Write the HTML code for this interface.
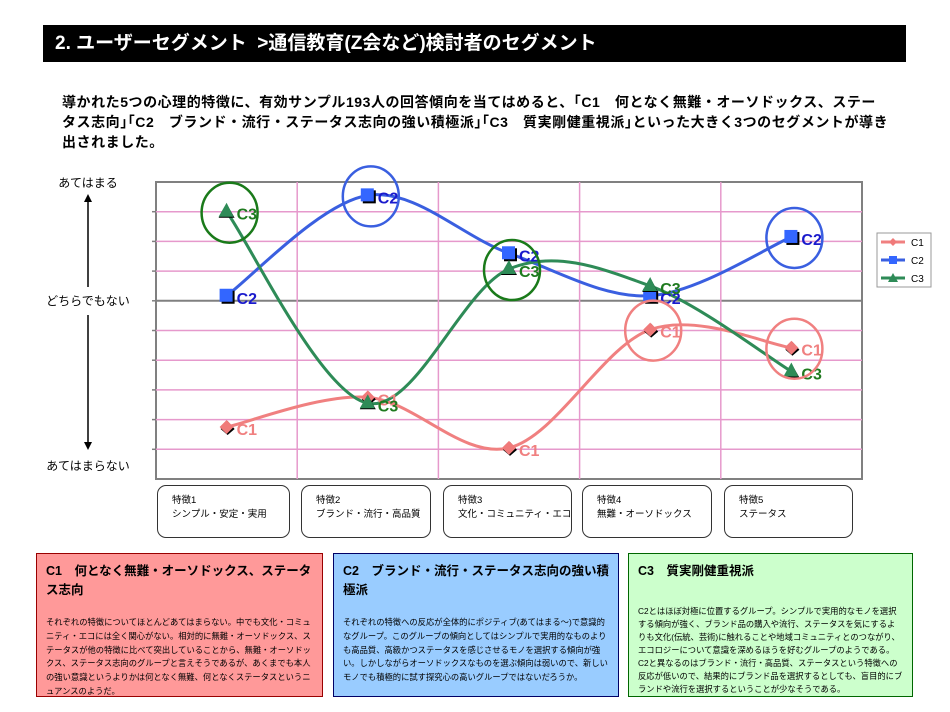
<!DOCTYPE html>
<html><head><meta charset="utf-8">
<style>
body{margin:0;width:950px;height:712px;background:#fff;font-family:"Liberation Sans","Noto Sans CJK JP",sans-serif;position:relative;overflow:hidden}
.abs{position:absolute}
#hdr{left:43px;top:25px;width:863px;height:37px;background:#000;color:#fff;font-weight:bold;font-size:19px;line-height:37px;padding-left:12px;box-sizing:border-box}
#intro{left:62px;top:92px;width:850px;font-size:14px;font-weight:bold;line-height:20px;color:#000;white-space:nowrap;letter-spacing:0.55px}
.feat{position:absolute;top:485px;height:53px;border:1px solid #333;border-radius:9px;box-sizing:border-box;font-size:9.5px;line-height:14px;padding:8px 0 0 14px;white-space:nowrap}
.seg{position:absolute;top:553px;height:144px;box-sizing:border-box;border:1.5px solid;padding:8px 9px}
.seg h3{margin:0 0 16px 0;font-size:12.5px;line-height:19px;font-weight:bold}
.seg p{margin:0;font-size:8.3px;line-height:13.8px}
</style></head><body>
<div id="hdr" class="abs">2. ユーザーセグメント &nbsp;&gt;通信教育(Z会など)検討者のセグメント</div>
<div id="intro" class="abs">導かれた5つの心理的特徴に、有効サンプル193人の回答傾向を当てはめると、｢C1　何となく無難・オーソドックス、ステー<br>タス志向｣｢C2　ブランド・流行・ステータス志向の強い積極派｣｢C3　質実剛健重視派｣といった大きく3つのセグメントが導き<br>出されました。</div>

<svg class="abs" style="left:0;top:0" width="950" height="712" id="chart">
<g id="grid"></g><g id="series"></g><g id="legend"></g>
<g font-size="12" fill="#000" text-anchor="middle">
<text x="88" y="187">あてはまる</text>
<text x="88" y="305">どちらでもない</text>
<text x="88" y="470">あてはまらない</text>
<line x1="88" y1="200" x2="88" y2="287" stroke="#000" stroke-width="1.5"/>
<line x1="88" y1="315" x2="88" y2="443" stroke="#000" stroke-width="1.5"/>
<polygon points="84,202 92,202 88,194" fill="#000"/>
<polygon points="84,442 92,442 88,450" fill="#000"/>
</g>
</svg>

<div class="feat" style="left:157px;width:133px">特徴1<br>シンプル・安定・実用</div>
<div class="feat" style="left:301px;width:130px">特徴2<br>ブランド・流行・高品質</div>
<div class="feat" style="left:443px;width:129px">特徴3<br>文化・コミュニティ・エコ</div>
<div class="feat" style="left:582px;width:130px">特徴4<br>無難・オーソドックス</div>
<div class="feat" style="left:724px;width:129px">特徴5<br>ステータス</div>

<div class="seg" style="left:36px;width:287px;background:#ff9999;border-color:#990000"><h3>C1　何となく無難・オーソドックス、ステータス志向</h3><p>それぞれの特徴についてほとんどあてはまらない。中でも文化・コミュニティ・エコには全く関心がない。相対的に無難・オーソドックス、ステータスが他の特徴に比べて突出していることから、無難・オーソドックス、ステータス志向のグループと言えそうであるが、あくまでも本人の強い意識というよりかは何となく無難、何となくステータスというニュアンスのようだ。</p></div>
<div class="seg" style="left:333px;width:286px;background:#99ccff;border-color:#000066"><h3>C2　ブランド・流行・ステータス志向の強い積極派</h3><p>それぞれの特徴への反応が全体的にポジティブ(あてはまる～)で意識的なグループ。このグループの傾向としてはシンプルで実用的なものよりも高品質、高級かつステータスを感じさせるモノを選択する傾向が強い。しかしながらオーソドックスなものを選ぶ傾向は弱いので、新しいモノでも積極的に試す探究心の高いグループではないだろうか。</p></div>
<div class="seg" style="left:628px;width:285px;background:#ccffcc;border-color:#006600"><h3 style="margin-bottom:24px">C3　質実剛健重視派</h3><p style="line-height:13px">C2とはほぼ対極に位置するグループ。シンプルで実用的なモノを選択する傾向が強く、ブランド品の購入や流行、ステータスを気にするよりも文化(伝統、芸術)に触れることや地域コミュニティとのつながり、エコロジーについて意識を深めるほうを好むグループのようである。C2と異なるのはブランド・流行・高品質、ステータスという特徴への反応が低いので、結果的にブランド品を選択するとしても、盲目的にブランドや流行を選択するということが少なそうである。</p></div>

<script>
const categories=["特徴1","特徴2","特徴3","特徴4","特徴5"];
const seriesNames=["C1","C2","C3"];
const c1Values=[-4.25,-3.25,-4.95,-0.97,-1.58];
const c2Values=[0.17,3.55,1.6,0.17,2.15];
const c3Values=[3,-3.45,1.07,0.5,-2.38];
const yTicks=[4,3,2,1,0,-1,-2,-3,-4,-5,-6];
const highlights=[[2,0],[1,1],[2,2],[0,3],[0,4],[1,4]];

const NS="http://www.w3.org/2000/svg";
const L=156,R=862,T=182,B=479,yMax=4,yMin=-6;
const xs=i=>L+(R-L)/categories.length*(i+0.5);
const ys=v=>T+(yMax-v)/(yMax-yMin)*(B-T);
function mk(tag,attrs,parent){const e=document.createElementNS(NS,tag);for(const k in attrs)e.setAttribute(k,attrs[k]);parent.appendChild(e);return e;}
const grid=document.getElementById('grid'),ser=document.getElementById('series'),leg=document.getElementById('legend');
mk('rect',{x:L,y:T,width:R-L,height:B-T,fill:'#fff',stroke:'#808080','stroke-width':2},grid);
yTicks.forEach(v=>{if(v===yMax||v===yMin)return;
 const l=mk('line',{x1:L,x2:R,y1:ys(v),y2:ys(v),stroke:v===0?'#808080':'#e699cc','stroke-width':v===0?2:1.5},grid);
 
 
 mk('line',{x1:L-4,x2:L,y1:ys(v),y2:ys(v),stroke:'#808080','stroke-width':1.5},grid);});
for(let i=1;i<categories.length;i++){const x=L+(R-L)/categories.length*i;
 const l=mk('line',{x1:x,x2:x,y1:T,y2:B,stroke:'#e699cc','stroke-width':1.5},grid);
 
 }
const all=[c1Values,c2Values,c3Values];
const lineCols=['#f08080','#3a5fe0','#2e8b57'],markCols=['#f07a7a','#3366ff','#2e8b57'],labCols=['#f08080','#1a1acc','#1f7a1f'],circCols=['#f08080','#3a5fe0','#1a7a1a'];
function smooth(pts){let d=`M${pts[0][0]},${pts[0][1]}`;for(let i=0;i<pts.length-1;i++){const p0=pts[i-1]||pts[i],p1=pts[i],p2=pts[i+1],p3=pts[i+2]||p2;
 d+=` C${p1[0]+(p2[0]-p0[0])/6},${p1[1]+(p2[1]-p0[1])/6} ${p2[0]-(p3[0]-p1[0])/6},${p2[1]-(p3[1]-p1[1])/6} ${p2[0]},${p2[1]}`;}return d;}
function marker(s,x,y,g){
 if(s===0){mk('polygon',{points:`${x+1},${y-6} ${x+8},${y+2} ${x+1},${y+8} ${x-6},${y+2}`,fill:'#000'},g);mk('polygon',{points:`${x},${y-7} ${x+7},${y} ${x},${y+7} ${x-7},${y}`,fill:markCols[0]},g);}
 else if(s===1){mk('rect',{x:x-5,y:y-5,width:13,height:13,fill:'#000'},g);mk('rect',{x:x-7,y:y-7,width:13,height:13,fill:markCols[1]},g);}
 else{mk('polygon',{points:`${x-8},${y+6} ${x+8},${y+6} ${x},${y-8}`,fill:'#000'},g);mk('polygon',{points:`${x-8},${y+5} ${x+7},${y+5} ${x},${y-9}`,fill:markCols[2]},g);}
}
all.forEach((vals,s)=>{
 const pts=vals.map((v,i)=>[xs(i),ys(v)]);
 const p=mk('path',{d:smooth(pts),fill:'none',stroke:lineCols[s],'stroke-width':3},ser);
 
 
});
all.forEach((vals,s)=>{
 vals.forEach((v,i)=>{
  const g=mk('g',{},ser);
  
  
  marker(s,xs(i),ys(v),g);
  mk('text',{x:xs(i)+10,y:ys(v)+8,fill:labCols[s],'font-size':16,'font-weight':'bold'},g).textContent=seriesNames[s];
 });
});
highlights.forEach(([s,i])=>{
 const c=mk('ellipse',{cx:xs(i)+3,cy:ys(all[s][i])+1,rx:28,ry:30,fill:'none',stroke:circCols[s],'stroke-width':2.5},ser);
 
 
});
mk('rect',{x:877,y:233,width:54,height:54,fill:'#fff',stroke:'#999'},leg);
seriesNames.forEach((n,s)=>{const y=242+s*18;
 const g=mk('g',{},leg);
 
 
 mk('line',{x1:881,x2:905,y1:y,y2:y,stroke:lineCols[s],'stroke-width':3},g);
 if(s===0)mk('polygon',{points:`893,${y-4} 897,${y} 893,${y+4} 889,${y}`,fill:markCols[0]},g);
 else if(s===1)mk('rect',{x:889,y:y-4,width:8,height:8,fill:markCols[1]},g);
 else mk('polygon',{points:`888,${y+4} 898,${y+4} 893,${y-5}`,fill:markCols[2]},g);
 mk('text',{x:911,y:y+4,'font-size':10,fill:'#000'},g).textContent=n;});
</script>
</body></html>
